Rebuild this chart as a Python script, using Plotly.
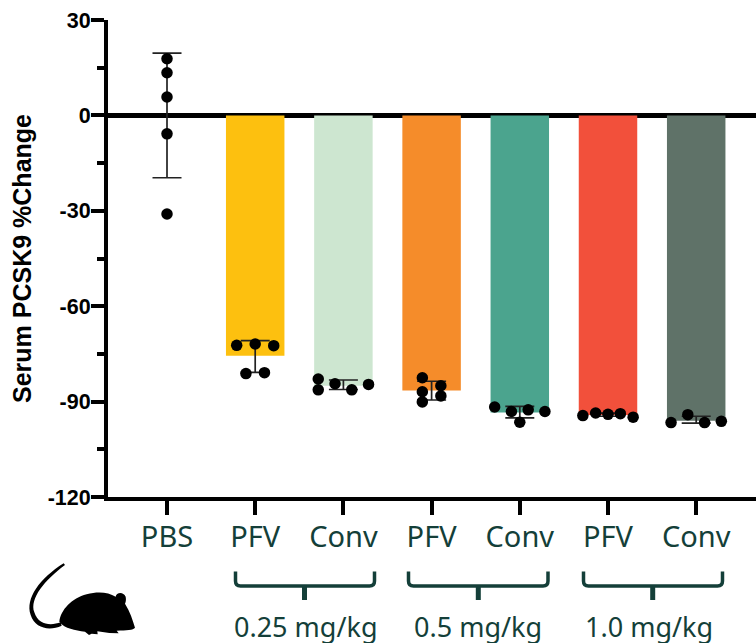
import plotly.graph_objects as go

W, H = 756, 643
L, R, T, B = 108, 756, 20, 497

categories = ["PBS", "PFV", "Conv", "PFV", "Conv", "PFV", "Conv"]
bar_values = [0, -75.6, -85.0, -86.5, -93.4, -94.2, -96.0]
err_high = [19.6, -70.8, -83.2, -83.6, -91.5, -93.6, -94.6]
err_low = [-19.6, -80.8, -86.2, -89.5, -95.1, -94.6, -96.8]
bar_colors = ["#FFFFFF", "#FDC00F", "#CDE6D0", "#F58C2A", "#4BA48E", "#F2503B", "#5F7268"]

dot_values = [
    [17.8, 13.4, 5.8, -5.8, -31.0],
    [-72.3, -71.9, -72.4, -81.2, -80.9],
    [-82.9, -86.3, -84.4, -86.3, -84.6],
    [-82.5, -85.0, -86.9, -88.2, -90.1],
    [-91.7, -93.1, -92.6, -93.1, -96.5],
    [-94.4, -93.6, -94.0, -93.8, -94.9],
    [-96.6, -94.1, -96.6, -96.2],
]
dot_offsets = [
    [0, 0, 0, 0, 0],
    [-0.21, 0, 0.21, -0.105, 0.105],
    [-0.285, -0.285, -0.095, 0.095, 0.285],
    [-0.105, 0.105, -0.105, 0.105, -0.105],
    [-0.285, -0.095, 0.095, 0.285, 0],
    [-0.285, -0.14, 0, 0.14, 0.285],
    [-0.285, -0.095, 0.095, 0.285],
]
group_labels = ["0.25 mg/kg", "0.5 mg/kg", "1.0 mg/kg"]
y_ticks = [30, 0, -30, -60, -90, -120]
y_ticktext = ["30", "0", "-30", "-60", "-90", "-120"]

GREEN = "#143F39"
LABEL_FONT = "Noto Sans"
x_pos = list(range(len(categories)))
px_per_cat = 88.2


def fx(p):
    return (p - L) / (R - L)


def fy(p):
    return (B - p) / (B - T)


def path(cmds):
    out = []
    for c in cmds:
        if isinstance(c, str):
            out.append(c)
        else:
            out.append(f"{fx(c[0]):.5f},{fy(c[1]):.5f}")
    return " ".join(out)


def z(x, y):
    return (20 + x / 3, 555 + y / 3)


fig = go.Figure()
fig.add_bar(x=x_pos[1:], y=bar_values[1:], width=0.663,
            marker=dict(color=bar_colors[1:], line_width=0), showlegend=False)
fig.add_scatter(
    x=x_pos, y=[(h + l) / 2 for h, l in zip(err_high, err_low)], mode="markers",
    marker=dict(size=1, opacity=0), showlegend=False,
    error_y=dict(type="data", symmetric=True,
                 array=[(h - l) / 2 for h, l in zip(err_high, err_low)],
                 color="#222222", thickness=1.7, width=14.5),
)
dx, dy = [], []
for i, (vals, offs) in enumerate(zip(dot_values, dot_offsets)):
    for v, o in zip(vals, offs):
        dx.append(i + o)
        dy.append(v)
fig.add_scatter(x=dx, y=dy, mode="markers", showlegend=False,
                marker=dict(color="black", size=11.5, line_width=0))

shapes = []
# dose brackets
for x0, x1, xm in [(235.5, 374.5, 304.5), (408.5, 548, 478.3), (583.5, 722.5, 652.7)]:
    d = ["M", (x0, 571.5), "L", (x0, 581), "Q", (x0, 586), (x0 + 5, 586),
         "L", (x1 - 5, 586), "Q", (x1, 586), (x1, 581), "L", (x1, 571.5)]
    shapes.append(dict(type="path", xref="paper", yref="paper", path=path(d),
                       line=dict(color=GREEN, width=3.5), fillcolor="rgba(0,0,0,0)"))
    shapes.append(dict(type="path", xref="paper", yref="paper",
                       path=path(["M", (xm, 586), "L", (xm, 600)]),
                       line=dict(color=GREEN, width=5), fillcolor="rgba(0,0,0,0)"))
# mouse silhouette
body = ["M", z(118, 200), "C", z(122, 165), z(155, 130), z(200, 118),
        "C", z(235, 108), z(265, 112), z(287, 125),
        "C", z(288, 112), z(310, 108), z(317, 125),
        "C", z(319, 135), z(317, 142), z(315, 146),
        "C", z(330, 170), z(338, 195), z(345, 218),
        "C", z(340, 225), z(320, 226), z(290, 227),
        "L", z(296, 235), "L", z(268, 234), "L", z(232, 229), "L", z(233, 238),
        "L", z(215, 236), "L", z(207, 240), "L", z(195, 230),
        "C", z(165, 225), z(135, 222), z(118, 200), "Z"]
tail = ["M", z(125, 212), "C", z(90, 228), z(45, 222), z(32, 180),
        "C", z(15, 130), z(60, 70), z(131, 25),
        "L", z(135, 30), "C", z(75, 75), z(28, 130), z(43, 172),
        "C", z(55, 212), z(95, 212), z(122, 202), "Z"]
for d in (body, tail):
    shapes.append(dict(type="path", xref="paper", yref="paper", path=path(d),
                       line_width=0, fillcolor="black"))

annotations = [
    dict(text=t, x=fx(xc), y=fy(625.5), xref="paper", yref="paper", showarrow=False,
         xanchor="center", yanchor="middle", height=34, valign="middle",
         font=dict(family=LABEL_FONT, size=27, color=GREEN))
    for t, xc in zip(group_labels, [305.5, 478, 649])
]

fig.update_layout(
    width=W, height=H, autosize=False,
    margin=dict(l=L, r=W - R, t=T, b=H - B),
    paper_bgcolor="white", plot_bgcolor="white",
    bargap=0.3, shapes=shapes, annotations=annotations, showlegend=False,
    xaxis=dict(
        range=[(L - 167) / px_per_cat, (R - 167) / px_per_cat],
        tickmode="array", tickvals=x_pos, ticktext=categories,
        showgrid=False, zeroline=False, showline=True, linecolor="black", linewidth=4,
        ticks="outside", ticklen=14, tickwidth=4, tickcolor="black", ticklabelstandoff=-3,
        tickfont=dict(family=LABEL_FONT, size=29, color=GREEN),
    ),
    yaxis=dict(
        range=[-120, 30], tickmode="array", tickvals=y_ticks, ticktext=y_ticktext,
        showgrid=False, showline=True, linecolor="black", linewidth=4,
        zeroline=True, zerolinecolor="black", zerolinewidth=5,
        ticks="outside", ticklen=13, tickwidth=4, tickcolor="black", ticklabelstandoff=-4,
        tickfont=dict(family="Liberation Sans", size=21.5, color="black", weight="bold"),
        minor=dict(tickvals=[15, -15, -45, -75, -105], ticks="outside", ticklen=7,
                   tickwidth=4, tickcolor="black", showgrid=False),
        title=dict(text="Serum PCSK9 %Change", standoff=10,
                   font=dict(family="Liberation Sans", size=25, color="black", weight="bold")),
    ),
)
fig.write_html("out.html", config=dict(displayModeBar=False),
               post_script="document.body.style.margin='0';document.documentElement.style.overflow='hidden';")
